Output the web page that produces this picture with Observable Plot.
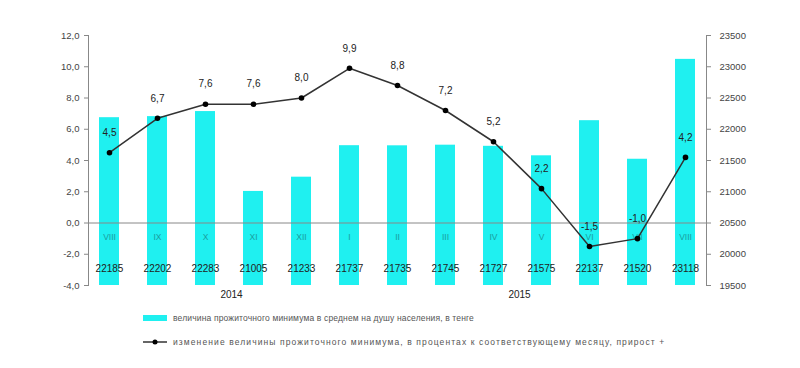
<!DOCTYPE html>
<html><head><meta charset="utf-8">
<script src="https://cdn.jsdelivr.net/npm/d3@7"></script>
<script src="https://cdn.jsdelivr.net/npm/@observablehq/plot@0.6"></script>
<style>
body{margin:0;background:#fff;font-family:"Liberation Sans",Arial,sans-serif;}
#legend{position:relative;height:68px;font-size:8.5px;color:#555;}
.row{position:absolute;left:143px;display:flex;align-items:center;white-space:nowrap;}
.sw{width:24px;margin-right:6px;}
</style></head>
<body>
<div id="chart"></div>
<div id="legend">
  <div class="row" style="top:13px"><span class="sw" style="height:6px;background:#1ff0f0"></span><span style="letter-spacing:0.15px">величина прожиточного минимума в среднем на душу населения, в тенге</span></div>
  <div class="row" style="top:37px"><svg class="sw" width="24" height="8"><line x1="0" y1="4" x2="24" y2="4" stroke="#333" stroke-width="1.5"/><circle cx="12" cy="4" r="2.5" fill="#000"/></svg><span style="letter-spacing:1.1px">изменение величины прожиточного минимума, в процентах к соответствующему месяцу, прирост +</span></div>
</div>
<script>
const months = ["VIII","IX","X","XI","XII","I","II","III","IV","V","VI","VII","VIII "];
const minimum = [22185,22202,22283,21005,21233,21737,21735,21745,21727,21575,22137,21520,23118];
const growth = [4.5,6.7,7.6,7.6,8.0,9.9,8.8,7.2,5.2,2.2,-1.5,-1.0,4.2];
const years = ["2014", "2015"];
const yearAt = ["XI", "V"];
const leftTicks = [-4,-2,0,2,4,6,8,10,12];
const rightTicks = [19500,20000,20500,21000,21500,22000,22500,23000,23500];

// map right-axis value to left-axis space
const rMin = 19500, rMax = 23500, lMin = -4, lMax = 12;
const toLeft = v => lMin + (v - rMin) / (rMax - rMin) * (lMax - lMin);
const fmt = d => d.toFixed(1).replace(".", ",");

const rows = months.map((m, i) => ({m, v: minimum[i], g: growth[i], y: toLeft(minimum[i])}));
const yearRows = years.map((label, i) => ({label, at: yearAt[i]}));

const plot = Plot.plot({
  width: 800, height: 300,
  marginLeft: 88, marginRight: 94, marginTop: 35, marginBottom: 15,
  style: {fontFamily: "Liberation Sans, Arial, sans-serif", fontSize: "9.5px", color: "#444", background: "#fff"},
  x: {type: "band", domain: months, paddingInner: 0.58, paddingOuter: 0.2, axis: null},
  y: {domain: [lMin, lMax], axis: null},
  marks: [
    Plot.barY(rows, {x: "m", y1: lMin, y2: "y", fill: "#1ff0f0"}),
    Plot.ruleY([0], {stroke: "#888", strokeWidth: 1}),
    Plot.axisY({anchor: "left", ticks: leftTicks, tickFormat: fmt, tickSize: 4, tickPadding: 5, stroke: "#888", color: "#444", fontSize: 9.5}),
    Plot.axisY({anchor: "right", ticks: rightTicks.map(toLeft), tickFormat: (d, i) => String(rightTicks[i]), tickSize: 4, tickPadding: 9, stroke: "#888", color: "#444", fontSize: 9.5}),
    Plot.frame({anchor: "left", stroke: "#888"}),
    Plot.frame({anchor: "right", stroke: "#888"}),
    Plot.text(rows, {x: "m", y: 0, text: d => d.m.trim(), dy: 14, fill: "#1a9e9e", fontSize: 8.5}),
    Plot.text(rows, {x: "m", y: lMin, text: d => String(d.v), dy: -17, fill: "#222", fontSize: 10, letterSpacing: 0.5}),
    Plot.line(rows, {x: "m", y: "g", stroke: "#333", strokeWidth: 1.5}),
    Plot.dot(rows, {x: "m", y: "g", r: 2.8, fill: "#000"}),
    Plot.text(rows, {x: "m", y: "g", text: d => fmt(d.g), dy: -20, fill: "#222", fontSize: 10}),
    Plot.text(yearRows, {x: "at", y: lMin, text: "label", dy: 9, dx: -22, fill: "#222", fontSize: 10})
  ]
});
document.getElementById("chart").appendChild(plot);
</script>
</body></html>
